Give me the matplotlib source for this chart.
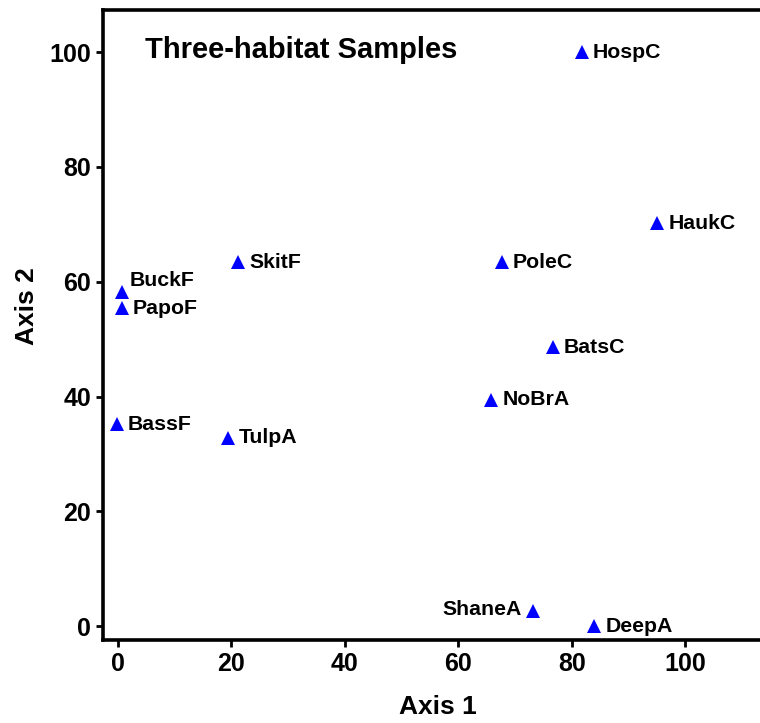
import matplotlib
matplotlib.use("Agg")
import matplotlib.pyplot as plt

# sample scores
samples = ["HospC", "HaukC", "PoleC", "BatsC", "NoBrA", "ShaneA",
           "DeepA", "SkitF", "BuckF", "PapoF", "BassF", "TulpA"]
axis1 = [81.8, 95.1, 67.7, 76.7, 65.8, 73.2, 84.0, 21.2, 0.7, 0.7, -0.2, 19.4]
axis2 = [100.0, 70.2, 63.4, 48.6, 39.4, 2.6, 0.0, 63.4, 58.2, 55.4, 35.2, 32.8]

x_ticks = [0, 20, 40, 60, 80, 100]
y_ticks = [0, 20, 40, 60, 80, 100]

# label offsets in points (dx, dy, ha)
offsets = {
    "ShaneA": (-8, 1, "right"),
    "BuckF": (6, 8, "left"),
}

plt.rcParams["font.family"] = ["Liberation Sans", "DejaVu Sans"]
plt.rcParams["font.weight"] = "bold"

fig = plt.figure(figsize=(7.6, 7.23), dpi=100)
ax = fig.add_axes([0.1355, 0.1148, 0.8645, 0.8712])

ax.plot(axis1, axis2, linestyle="none", marker="^", markersize=10,
        color="#0000ff", markeredgewidth=0)

for name, x, y in zip(samples, axis1, axis2):
    dx, dy, ha = offsets.get(name, (8, 0, "left"))
    ax.annotate(name, (x, y), xytext=(dx, dy), textcoords="offset points",
                ha=ha, va="center", fontsize=15.3, fontweight="bold")

ax.text(0.064, 0.937, "Three-habitat Samples", transform=ax.transAxes,
        fontsize=21, fontweight="bold", va="center", ha="left")

ax.set_xlim(-2.6, 113.2)
ax.set_ylim(-2.4, 107.3)
ax.set_xticks(x_ticks)
ax.set_yticks(y_ticks)
ax.tick_params(labelsize=18, width=2, length=5, direction="out")
for lab in ax.get_xticklabels() + ax.get_yticklabels():
    lab.set_fontweight("bold")

ax.spines["right"].set_visible(False)
for s in ("left", "top", "bottom"):
    ax.spines[s].set_linewidth(2.6)

ax.set_xlabel("Axis 1", fontsize=19, fontweight="bold")
ax.set_ylabel("Axis 2", fontsize=19, fontweight="bold")
ax.xaxis.set_label_coords(0.51, -0.088)
ax.yaxis.set_label_coords(-0.097, 0.53)

fig.savefig("out.png", dpi=100)
